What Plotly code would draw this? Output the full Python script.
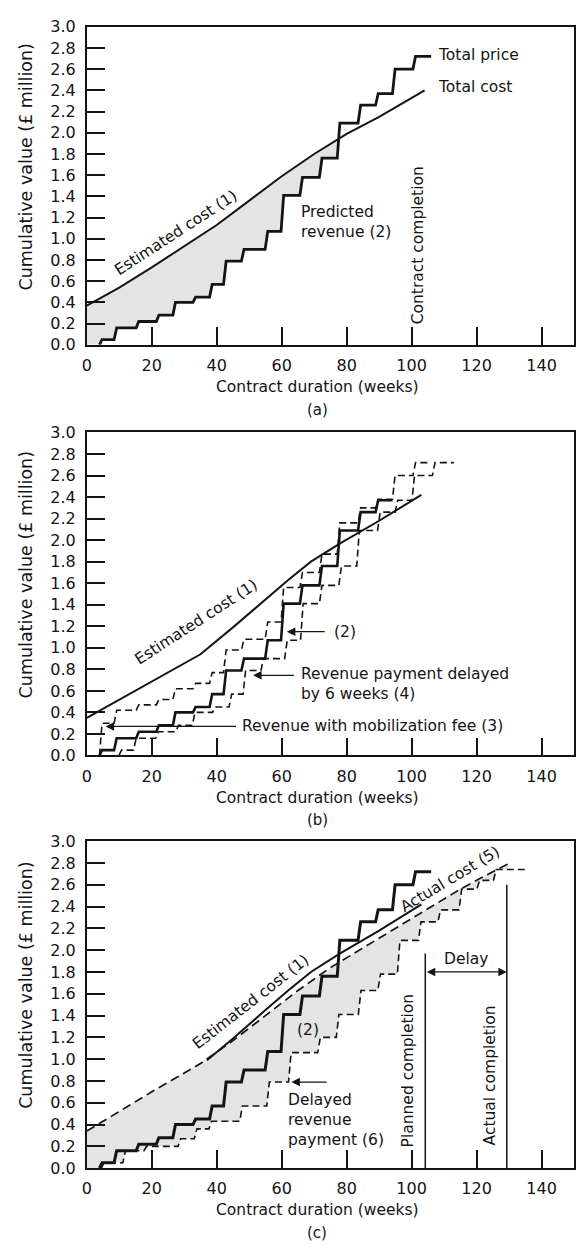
import numpy as np
import plotly.graph_objects as go

# ---------------- data ----------------
# predicted revenue (2): payment weeks and cumulative levels (£ million)
rev_weeks = [4.3, 8.8, 15.6, 21.8, 26.9, 33.1, 38.2, 42.5, 48.0, 55.3, 60.2, 66.0, 72.0, 77.5, 83.9, 89.3, 94.5, 100.8]
rev_levels = [0.05, 0.16, 0.22, 0.28, 0.40, 0.45, 0.57, 0.79, 0.90, 1.07, 1.41, 1.58, 1.76, 2.09, 2.26, 2.37, 2.60, 2.72]
rev_end = 106.0

# estimated cost (1), panel (a)
cost_a_weeks = [0, 10, 20, 30, 40, 50, 60, 70, 80, 90, 104]
cost_a_vals = [0.37, 0.54, 0.73, 0.93, 1.13, 1.36, 1.59, 1.80, 1.99, 2.15, 2.40]

# estimated cost (1), panels (b) and (c)
cost_b_weeks = [0, 10, 20, 35, 45, 55, 62, 69, 78, 90, 103]
cost_b_vals = [0.35, 0.52, 0.69, 0.94, 1.19, 1.45, 1.63, 1.80, 1.97, 2.18, 2.42]

# revenue with mobilization fee (3)
mob_levels = [0.30, 0.42, 0.47, 0.52, 0.62, 0.67, 0.77, 0.98, 1.08, 1.24, 1.56, 1.70, 1.87, 2.16, 2.30, 2.38, 2.60, 2.72]
mob_end = 105.0

# revenue payment delayed (4)
payment_delay = 6.0
delayed_end = 113.0
rev_b_last_step = 16  # solid (2) in panel (b) drawn up to this step

# actual cost (5)
act_weeks = [0, 10, 20, 35, 45, 55, 65, 75, 85, 95, 105, 115, 125, 129.6]
act_vals = [0.34, 0.52, 0.70, 0.96, 1.17, 1.40, 1.63, 1.84, 2.02, 2.20, 2.38, 2.56, 2.72, 2.79]
est_c_start = 37.0

# delayed revenue payment (6)
d6_weeks = [4.9, 11.5, 18.0, 28.5, 33.5, 38.0, 47.5, 55.8, 62.5, 71.5, 77.2, 84.0, 90.0, 96.0, 102.5, 108.5, 115.0, 120.5, 125.6]
d6_levels = [0.05, 0.16, 0.20, 0.27, 0.36, 0.43, 0.57, 0.79, 1.06, 1.20, 1.41, 1.63, 1.78, 2.09, 2.26, 2.37, 2.56, 2.64, 2.74]
d6_end = 135.0

planned_completion = 104.2
actual_completion = 129.3
planned_top = 1.97
actual_top = 2.60
delay_level = 1.80

x_ticks = [0, 20, 40, 60, 80, 100, 120, 140]

# ---------------- layout helpers ----------------
W, H = 581, 1252
FONT = "DejaVu Sans"
INK = "#141414"
SHADE = "#e4e4e4"


def py(p):
    return 1 - p / H


panels = [  # (top px, bottom px)
    (18, 341),
    (430, 758),
    (845, 1177),
]
x_dom = [82.5 / W, 574 / W]


def step_poly(weeks, levels, end, slant=0.8):
    xs, ys = [], []
    prev = 0.0
    for w, l in zip(weeks, levels):
        xs += [w - slant / 2, w + slant / 2]
        ys += [prev, l]
        prev = l
    xs.append(end)
    ys.append(prev)
    return np.array(xs), np.array(ys)


fig = go.Figure()


def add_line(x, y, n, width=2.0, dash=None):
    fig.add_trace(go.Scatter(
        x=x, y=y, mode="lines", xaxis="x" if n == 1 else f"x{n}",
        yaxis="y" if n == 1 else f"y{n}",
        line=dict(color=INK, width=width, dash=dash), showlegend=False, hoverinfo="skip"))


def add_fill(up_w, up_v, lo_x, lo_y, xmax, n):
    lx = np.concatenate([[0.0], lo_x])
    ly = np.concatenate([[0.0], lo_y])
    grid = np.unique(np.concatenate([np.linspace(0, xmax, 3000), lx[lx <= xmax], np.array(up_w, float)]))
    lo = np.interp(grid, lx, ly)
    up = np.maximum(np.interp(grid, up_w, up_v), lo)
    xa = "x" if n == 1 else f"x{n}"
    ya = "y" if n == 1 else f"y{n}"
    fig.add_trace(go.Scatter(x=grid, y=lo, mode="lines", xaxis=xa, yaxis=ya,
                             line=dict(width=0, color=SHADE), showlegend=False, hoverinfo="skip"))
    fig.add_trace(go.Scatter(x=grid, y=up, mode="lines", xaxis=xa, yaxis=ya, fill="tonexty",
                             fillcolor=SHADE, line=dict(width=0, color=SHADE), showlegend=False,
                             hoverinfo="skip"))


DASH = "7px,4px"

# ---- panel (a) ----
ra_x, ra_y = step_poly(rev_weeks, rev_levels, rev_end)
add_fill(cost_a_weeks, cost_a_vals, ra_x, ra_y, cost_a_weeks[-1], 1)
add_line(cost_a_weeks, cost_a_vals, 1, 2.0)
add_line(ra_x, ra_y, 1, 2.8)

# ---- panel (b) ----
add_line(cost_b_weeks, cost_b_vals, 2, 2.0)
k = rev_b_last_step
rb_x, rb_y = step_poly(rev_weeks[:k], rev_levels[:k], rev_weeks[k] - 0.4)
add_line(rb_x, rb_y, 2, 2.6)
m_x, m_y = step_poly(rev_weeks, mob_levels, mob_end)
add_line(m_x, m_y, 2, 1.6, DASH)
d_x, d_y = step_poly([w + payment_delay for w in rev_weeks], rev_levels, delayed_end)
add_line(d_x, d_y, 2, 1.6, DASH)

# ---- panel (c) ----
r6_x, r6_y = step_poly(d6_weeks, d6_levels, d6_end)
add_fill(act_weeks, act_vals, r6_x, r6_y, act_weeks[-1], 3)
est_c_x = [est_c_start] + [w for w in cost_b_weeks if w > est_c_start]
est_c_y = list(np.interp(est_c_x, cost_b_weeks, cost_b_vals))
add_line(est_c_x, est_c_y, 3, 2.0)
add_line(act_weeks, act_vals, 3, 1.7, "9px,5px")
rc_x, rc_y = step_poly(rev_weeks, rev_levels, rev_end)
add_line(rc_x, rc_y, 3, 3.0)
add_line(r6_x, r6_y, 3, 1.6, DASH)

# ---------------- axes ----------------
layout = dict(width=W, height=H, margin=dict(l=0, r=0, t=0, b=0),
              paper_bgcolor="white", plot_bgcolor="white", showlegend=False,
              font=dict(family=FONT, color=INK, size=15))
for i, (top, bot) in enumerate(panels, start=1):
    sfx = "" if i == 1 else str(i)
    layout[f"xaxis{sfx}"] = dict(
        domain=x_dom, range=[0, 150], tickvals=x_ticks, ticks="inside", ticklen=18,
        tickwidth=1.5, tickcolor=INK, showline=True, mirror=True, linecolor=INK,
        linewidth=1.8, showgrid=False, zeroline=False, anchor=f"y{sfx}",
        tickfont=dict(family=FONT, size=16, color=INK), ticklabelstandoff=5, fixedrange=True)
    layout[f"yaxis{sfx}"] = dict(
        domain=[py(bot), py(top)], range=[0, 3], tick0=0, dtick=0.2, tickformat=".1f",
        ticks="inside", ticklen=18, tickwidth=1.5, tickcolor=INK, showline=True, mirror=True,
        linecolor=INK, linewidth=1.8, showgrid=False, zeroline=False, anchor=f"x{sfx}",
        tickfont=dict(family=FONT, size=16, color=INK), ticklabelstandoff=6, fixedrange=True)
fig.update_layout(**layout)

ann = []
shapes = []


def text(n, x, y, s, angle=0, xanchor="center", yanchor="middle", size=15.5, align="left"):
    ax = "x" if n == 1 else f"x{n}"
    ay = "y" if n == 1 else f"y{n}"
    ann.append(dict(x=x, y=y, xref=ax, yref=ay, text=s, showarrow=False, textangle=angle,
                    xanchor=xanchor, yanchor=yanchor, align=align,
                    font=dict(family=FONT, size=size, color=INK)))


def arrow(n, x_tip, y_tip, x_tail, y_tail, both=False):
    ax = "x" if n == 1 else f"x{n}"
    ay = "y" if n == 1 else f"y{n}"
    ann.append(dict(x=x_tip, y=y_tip, ax=x_tail, ay=y_tail, xref=ax, yref=ay, axref=ax, ayref=ay,
                    text="", showarrow=True, arrowhead=2, arrowsize=1.3, arrowwidth=1.3,
                    arrowcolor=INK, startarrowhead=2, startarrowsize=1.3,
                    arrowside="end+start" if both else "end"))


# common titles
for i, (top, bot) in enumerate(panels, start=1):
    center = bot - 1.68 * (bot - top) / 3.0
    ann.append(dict(x=21 / W, y=py(center), xref="paper", yref="paper",
                    xanchor="center", yanchor="middle",
                    text="Cumulative value (£ million)", showarrow=False, textangle=-90,
                    font=dict(family=FONT, size=17.5, color=INK)))
    ann.append(dict(x=315 / W, y=py(bot + 43), xref="paper", yref="paper",
                    xanchor="center", yanchor="middle",
                    text="Contract duration (weeks)", showarrow=False,
                    font=dict(family=FONT, size=15.5, color=INK)))
    ann.append(dict(x=315 / W, y=py(bot + 66), xref="paper", yref="paper",
                    xanchor="center", yanchor="middle",
                    text="(" + "abc"[i - 1] + ")", showarrow=False,
                    font=dict(family=FONT, size=15, color=INK)))

# panel (a)
text(1, 27.4, 1.05, "Estimated cost (1)", angle=-33)
text(1, 65.4, 1.16, "Predicted<br>revenue (2)", xanchor="left")
text(1, 107.5, 2.73, "Total price", xanchor="left")
text(1, 107.5, 2.43, "Total cost", xanchor="left")
text(1, 102.0, 0.94, "Contract completion", angle=-90)

# panel (b)
text(2, 33.7, 1.24, "Estimated cost (1)", angle=-33)
text(2, 75.5, 1.15, "(2)", xanchor="left")
arrow(2, 61.6, 1.15, 73.7, 1.15)
text(2, 65.2, 0.66, "Revenue payment delayed<br>by 6 weeks (4)", xanchor="left")
arrow(2, 51.2, 0.745, 64.2, 0.745)
text(2, 47.2, 0.27, "Revenue with mobilization fee (3)", xanchor="left")
arrow(2, 5.8, 0.27, 46.4, 0.27)

# panel (c)
text(3, 50.5, 1.52, "Estimated cost (1)", angle=-38)
text(3, 68.0, 1.27, "(2)")
text(3, 61.3, 0.44, "Delayed<br>revenue<br>payment (6)", xanchor="left")
arrow(3, 63.0, 0.79, 74.3, 0.79)
text(3, 99.0, 0.90, "Planned completion", angle=-90)
text(3, 124.4, 0.85, "Actual completion", angle=-90)
text(3, (planned_completion + actual_completion) / 2, delay_level + 0.12, "Delay")
arrow(3, actual_completion, delay_level, planned_completion, delay_level, both=True)
text(3, 112.0, 2.65, "Actual cost (5)", angle=-31)

for xc, top in [(planned_completion, planned_top), (actual_completion, actual_top)]:
    shapes.append(dict(type="line", xref="x3", yref="y3", x0=xc, x1=xc, y0=0, y1=top,
                       line=dict(color=INK, width=1.5)))

fig.update_layout(annotations=ann, shapes=shapes)
fig.write_html(
    "out.html",
    config={"displayModeBar": False},
    post_script="document.body.style.margin='0px';document.body.style.overflow='hidden';",
)
